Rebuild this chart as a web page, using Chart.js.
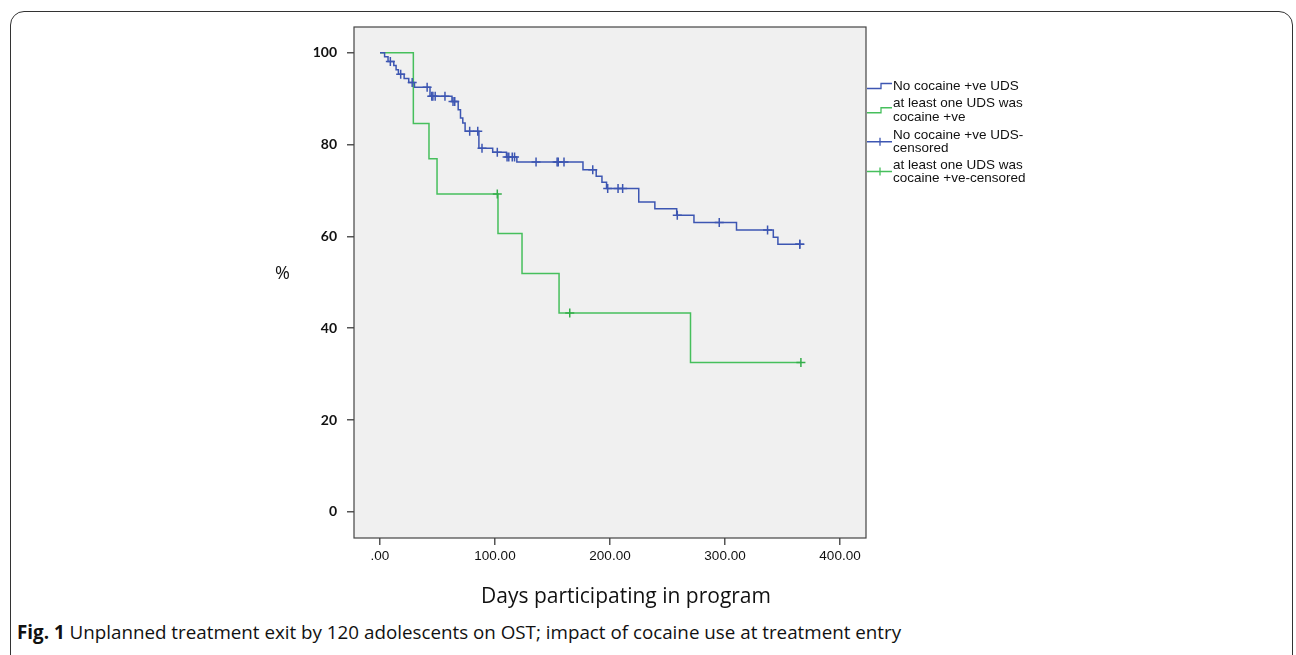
<!DOCTYPE html>
<html lang="en">
<head>
  <meta charset="UTF-8">
  <title>Unplanned treatment exit - Kaplan-Meier</title>
  <script src="https://cdn.jsdelivr.net/npm/chart.js"></script>
  <style>
    body { margin: 0; width: 1296px; height: 655px; overflow: hidden; position: relative; background: #fff; }
    #frame { position: absolute; left: 10px; top: 11px; width: 1281px; height: 700px; border: 1.5px solid #333; border-radius: 14px; }
    #km { position: absolute; left: 0; top: 0; }
    .txt { position: absolute; font-family: "Open Sans", sans-serif; line-height: 1; color: #111; white-space: nowrap; }
  </style>
</head>
<body>
  <div id="frame"></div>
  <canvas id="km" width="1296" height="590"></canvas>
  <div class="txt" style="left:275px; top:263px; font-size:18px;">%</div>
  <div class="txt" style="left:426px; width:400px; text-align:center; top:585px; font-size:21px;">Days participating in program</div>
  <div class="txt" style="left:17px; top:623px; font-size:18.8px;"><b>Fig. 1</b> Unplanned treatment exit by 120 adolescents on OST; impact of cocaine use at treatment entry</div>

  <script>
    // step points: day of event, survival (%) after it
    const blueDays = [0, 4, 7, 12, 14, 16, 21, 25, 30, 43.5, 62.6, 68, 70, 72, 74, 86, 98, 110, 119, 176.5, 188, 193, 197, 225, 239, 258, 273, 310, 342, 346];
    const blueSurv = [100, 99.1, 98.1, 97.2, 96.3, 95.3, 94.4, 93.5, 92.5, 90.5, 89.4, 87.6, 85.8, 84.7, 82.9, 79.2, 78.3, 77.3, 76.2, 74.5, 73.1, 71.8, 70.4, 67.5, 66.0, 64.6, 63.0, 61.4, 59.8, 58.3];
    const blueCensored = [9, 18, 28, 41, 45, 46, 48, 56.5, 63.5, 65, 78, 85, 88.7, 102, 110.5, 112, 115, 117, 135.7, 154, 155, 160, 185, 198, 207, 211, 258.5, 295, 337, 365, 365];

    const greenDays = [0, 29, 42.6, 49.6, 102.6, 123.5, 155.7, 270];
    const greenSurv = [100, 84.6, 76.9, 69.2, 60.6, 51.9, 43.3, 32.5];
    const greenCensored = [102, 165, 366];

    const xTickValues = [0, 100, 200, 300, 400];
    const xTickLabels = ['.00', '100.00', '200.00', '300.00', '400.00'];
    const yTickValues = [0, 20, 40, 60, 80, 100];

    const blue = '#3d56b2';
    const green = '#46bf5c';

    function survAt(days, surv, d) {
      let v = surv[0];
      for (let i = 0; i < days.length; i++) if (days[i] <= d) v = surv[i];
      return v;
    }
    function stepLine(days, surv, censored) {
      const pts = days.map((d, i) => ({ x: d, y: surv[i] }));
      const end = Math.max(...censored);
      pts.push({ x: end, y: surv[surv.length - 1] });
      return pts;
    }
    function censorPts(days, surv, censored) {
      return censored.map(d => ({ x: d, y: survAt(days, surv, d) }));
    }

    const legendRows = [
      { type: 'step', color: blue, lines: ['No cocaine +ve UDS'], y: [86] },
      { type: 'step', color: green, lines: ['at least one UDS was', 'cocaine +ve'], y: [103.5, 117] },
      { type: 'cross', color: blue, lines: ['No cocaine +ve UDS-', 'censored'], y: [135, 148.5] },
      { type: 'cross', color: green, lines: ['at least one UDS was', 'cocaine +ve-censored'], y: [165, 178] }
    ];

    const kmDecor = {
      id: 'kmDecor',
      beforeDraw(chart) {
        const { ctx, chartArea: a } = chart;
        ctx.save();
        ctx.fillStyle = '#f0f0f0';
        ctx.fillRect(a.left, a.top, a.right - a.left, a.bottom - a.top);
        ctx.restore();
      },
      afterDraw(chart) {
        const { ctx, chartArea: a } = chart;
        ctx.save();
        ctx.strokeStyle = '#444';
        ctx.lineWidth = 1.2;
        ctx.strokeRect(a.left, a.top, a.right - a.left, a.bottom - a.top);

        // legend to the right of the plot
        const x0 = a.right + 1;
        ctx.font = '13.5px "Liberation Sans", Arial, sans-serif';
        ctx.textBaseline = 'middle';
        legendRows.forEach(r => {
          const mid = (r.y[0] + r.y[r.y.length - 1]) / 2;
          ctx.strokeStyle = r.color;
          ctx.lineWidth = 1.3;
          ctx.beginPath();
          if (r.type === 'step') {
            ctx.moveTo(x0, mid + 2.5);
            ctx.lineTo(x0 + 14, mid + 2.5);
            ctx.lineTo(x0 + 14, mid - 2.5);
            ctx.lineTo(x0 + 25, mid - 2.5);
          } else {
            ctx.moveTo(x0, mid);
            ctx.lineTo(x0 + 25, mid);
            ctx.moveTo(x0 + 13, mid - 4);
            ctx.lineTo(x0 + 13, mid + 4);
          }
          ctx.stroke();
          ctx.fillStyle = '#111';
          r.lines.forEach((t, i) => ctx.fillText(t, x0 + 26, r.y[i]));
        });
        ctx.restore();
      }
    };

    new Chart(document.getElementById('km'), {
      type: 'line',
      data: {
        datasets: [
          { data: censorPts(blueDays, blueSurv, blueCensored), type: 'scatter', showLine: false,
            pointStyle: 'cross', pointRadius: 4.5, borderColor: blue, borderWidth: 1.5 },
          { data: censorPts(greenDays, greenSurv, greenCensored), type: 'scatter', showLine: false,
            pointStyle: 'cross', pointRadius: 4.5, borderColor: '#34ae4a', borderWidth: 1.5 },
          { data: stepLine(blueDays, blueSurv, blueCensored), stepped: 'before', borderColor: blue,
            borderWidth: 1.5, pointRadius: 0, fill: false },
          { data: stepLine(greenDays, greenSurv, greenCensored), stepped: 'before', borderColor: green,
            borderWidth: 1.5, pointRadius: 0, fill: false }
        ]
      },
      options: {
        responsive: false,
        animation: false,
        events: [],
        layout: { padding: { left: 254, right: 430, top: 27, bottom: 0 } },
        plugins: { legend: { display: false }, tooltip: { enabled: false } },
        scales: {
          x: {
            type: 'linear', min: -22.6, max: 422.6,
            afterBuildTicks: s => { s.ticks = xTickValues.map(v => ({ value: v })); },
            afterFit: s => { s.height = 52; },
            grid: { drawOnChartArea: false, drawTicks: true, tickLength: 7, color: '#555', lineWidth: 1.5 },
            border: { display: false },
            ticks: {
              autoSkip: false, maxRotation: 0, padding: 3, color: '#111',
              font: { family: '"Liberation Sans", Arial, sans-serif', size: 13.5 },
              callback: v => xTickLabels[xTickValues.indexOf(v)]
            }
          },
          y: {
            type: 'linear', min: -5.7, max: 105.6,
            afterBuildTicks: s => { s.ticks = yTickValues.map(v => ({ value: v })); },
            afterFit: s => { s.width = 100; },
            grid: { drawOnChartArea: false, drawTicks: true, tickLength: 7, color: '#555', lineWidth: 1.5 },
            border: { display: false },
            ticks: {
              padding: 10, color: '#111',
              font: { family: 'Lato, "Open Sans", sans-serif', size: 14, weight: 'bold' }
            }
          }
        }
      },
      plugins: [kmDecor]
    });
  </script>
</body>
</html>
